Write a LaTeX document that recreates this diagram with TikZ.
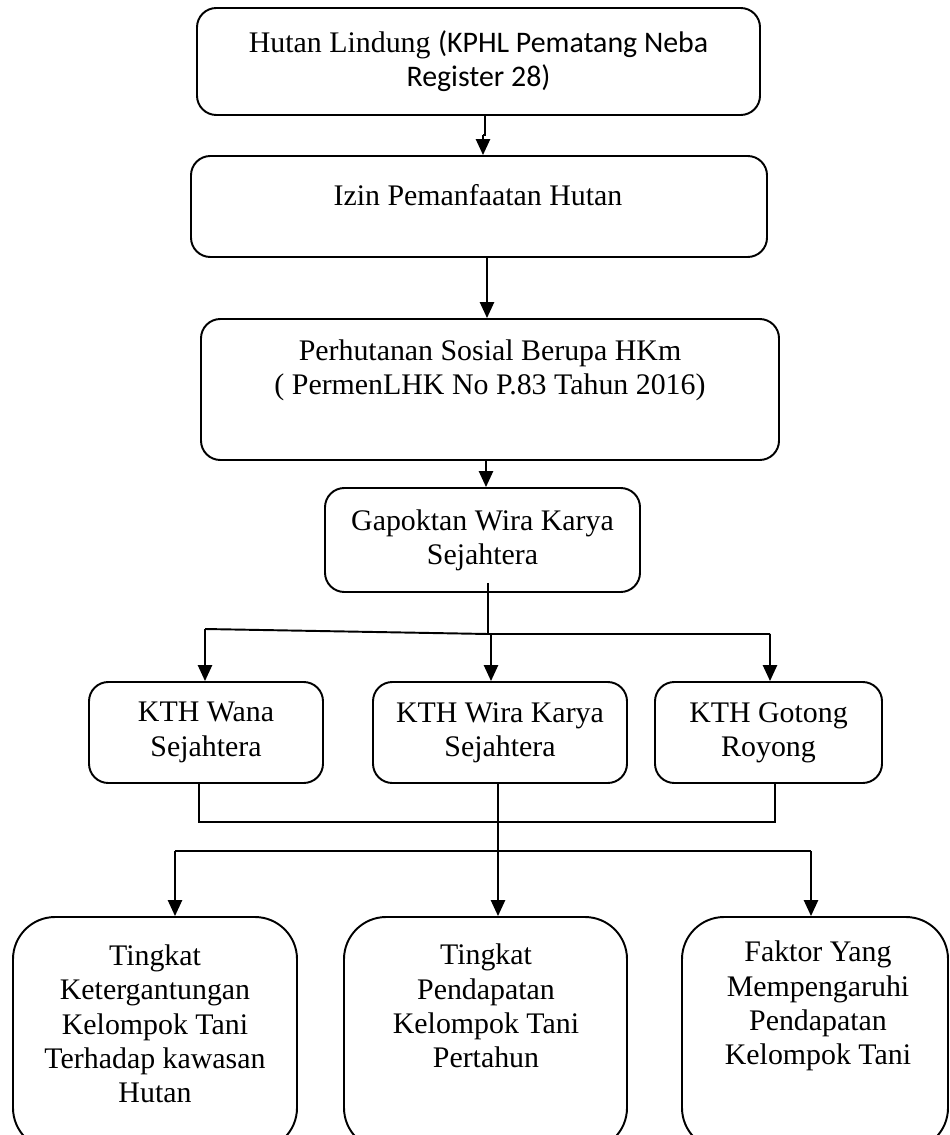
\documentclass[tikz,border=0pt]{standalone}
\usepackage{fontspec}
\setmainfont{Liberation Serif}
\newfontfamily\calibri{Carlito}
\usetikzlibrary{arrows.meta}
\tikzset{
  box/.style={draw, line width=1.1pt, rounded corners=11pt, inner sep=0pt},
  lowbox/.style={box, rounded corners=24pt},
  txt/.style={align=center, inner sep=0pt, font=\fontsize{17}{19.5}\selectfont},
  conn/.style={line width=1.1pt},
  arr/.style={conn, -{Triangle[width=8pt,length=9pt]}}
}
\begin{document}
\begin{tikzpicture}[x=0.2mm,y=-0.2mm]
\useasboundingbox (0,0) rectangle (950,1135);
\clip (0,0) rectangle (950,1135);
\node[box, txt, minimum width=112.6mm, minimum height=21.4mm] (hutan) at (478.5,61.5) {Hutan Lindung {\calibri(KPHL Pematang Neba}\\{\calibri Register 28)}};
\node[box, minimum width=115.2mm, minimum height=20.2mm] (izin) at (479,206.5) {};
\node[txt] (izintxt) at (478,195) {Izin Pemanfaatan Hutan};
\node[box, minimum width=115.6mm, minimum height=28.2mm] (sosial) at (490,389.5) {};
\node[txt] (sosialtxt) at (490,370.5) {Perhutanan Sosial Berupa HKm\\( PermenLHK No P.83 Tahun 2016)};
\node[box, txt, minimum width=63mm, minimum height=20.8mm] (gapoktan) at (482.5,540) {Gapoktan Wira Karya\\Sejahtera};
\node[box, txt, minimum width=46.8mm, minimum height=20.2mm] (wana) at (206,732.5) {KTH Wana\\Sejahtera};
\node[box, txt, minimum width=50.8mm, minimum height=20.2mm] (wira) at (500,732.5) {KTH Wira Karya\\Sejahtera};
\node[box, txt, minimum width=45.4mm, minimum height=20.2mm] (gotong) at (768.5,732.5) {KTH Gotong\\Royong};
\node[lowbox, minimum width=56.8mm, minimum height=46.6mm] (depend) at (155,1033.5) {};
\node[lowbox, minimum width=56.6mm, minimum height=46.6mm] (income) at (485.5,1033.5) {};
\node[lowbox, minimum width=53.2mm, minimum height=46.6mm] (factor) at (815,1033.5) {};
\node[txt] (dependtxt) at (155,1024) {Tingkat\\Ketergantungan\\Kelompok Tani\\Terhadap kawasan\\Hutan};
\node[txt] (incometxt) at (486,1006) {Tingkat\\Pendapatan\\Kelompok Tani\\Pertahun};
\node[txt] (factortxt) at (818,1006) {Faktor Yang\\Mempengaruhi\\Pendapatan\\Kelompok Tani};
% top chain
\coordinate (jog) at (485,135);
\draw[conn] (hutan.south -| jog) -- (jog) -- ++(-2,0) coordinate (jog2);
\draw[arr] (jog2) -- (jog2 |- izin.north);
\coordinate (a2) at ([xshift=1.6mm]izin.south);
\draw[arr] (a2) -- (a2 |- sosial.north);
\coordinate (a3) at ([xshift=-0.8mm]sosial.south);
\draw[arr] (a3) -- (a3 |- gapoktan.north);
% gapoktan to KTH
\coordinate (g1) at ([xshift=1.1mm,yshift=2mm]gapoktan.south);
\coordinate (bar1) at (488,634);
\coordinate (b1l) at (205,629);
\coordinate (b1m) at (491,634);
\coordinate (b1r) at (770,634);
\draw[conn] (g1) -- (g1 |- bar1);
\draw[conn] (b1l) -- (bar1) -- (b1r);
\draw[arr] (b1l) -- (b1l |- wana.north);
\draw[arr] (b1m) -- (b1m |- wira.north);
\draw[arr] (b1r) -- (b1r |- gotong.north);
% KTH to results
\coordinate (b2l) at (199,822);
\coordinate (b2m) at (498,822);
\coordinate (b2r) at (775,822);
\coordinate (b3l) at (175,851);
\coordinate (b3r) at (811,851);
\draw[conn] (b2l |- wana.south) -- (b2l) -- (b2r) -- (b2r |- gotong.south);
\draw[arr] (b2m |- wira.south) -- (b2m |- income.north);
\draw[conn] (b3l) -- (b3r);
\draw[arr] (b3l) -- (b3l |- depend.north);
\draw[arr] (b3r) -- (b3r |- factor.north);
\end{tikzpicture}
\end{document}
